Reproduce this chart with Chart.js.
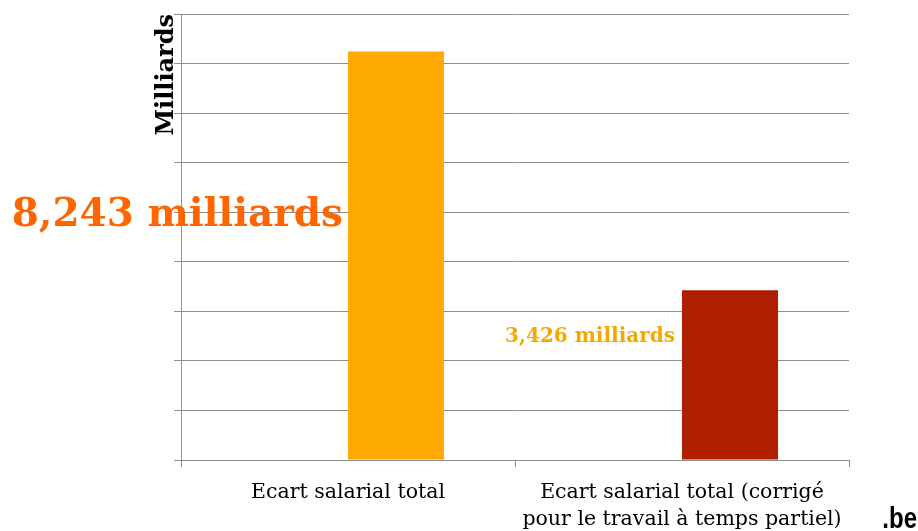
<!DOCTYPE html>
<html>
<head>
<meta charset="utf-8">
<script src="https://cdn.jsdelivr.net/npm/chart.js@4/dist/chart.umd.min.js"></script>
<style>
  html, body { margin: 0; padding: 0; background: #fff; }
  #wrap { width: 918px; height: 531px; }
</style>
</head>
<body>
<div id="wrap"><canvas id="myChart"></canvas></div>
<script>
// Data
const categories = [
  'Ecart salarial total',
  ['Ecart salarial total (corrigé', 'pour le travail à temps partiel)']
];
const values = [8.243, 3.426];                 // milliards
const barColors = ['#FFAA00', '#B01E00'];
const labelColors = ['#FF6600', '#F5A800'];
const yTicks = [0, 1, 2, 3, 4, 5, 6, 7, 8, 9]; // gridlines, no labels shown

const serif = '"DejaVu Serif", Georgia, serif';
const gridGray = '#8f8f8f';

// Value labels drawn next to each bar, plus the ".be" mark
const valueLabels = {
  id: 'valueLabels',
  afterDatasetsDraw(chart) {
    const ctx = chart.ctx;
    const meta = chart.getDatasetMeta(1);
    const labelY = [216, 337];
    const sizes = [39, 20];
    const gaps = [5, 7];
    ctx.save();
    meta.data.forEach((bar, i) => {
      const txt = values[i].toFixed(3).replace('.', ',') + ' milliards';
      ctx.font = 'bold ' + sizes[i] + 'px ' + serif;
      ctx.fillStyle = labelColors[i];
      ctx.textAlign = 'right';
      ctx.textBaseline = 'middle';
      ctx.fillText(txt, bar.x - bar.width / 2 - gaps[i], labelY[i]);
    });
    // logo
    ctx.translate(917, 530);
    ctx.scale(0.8, 1);
    ctx.font = 'bold 30px "Liberation Sans", Arial, sans-serif';
    ctx.fillStyle = '#000';
    ctx.textAlign = 'right';
    ctx.textBaseline = 'alphabetic';
    ctx.fillText('.be', 0, -2);
    ctx.restore();
  }
};

const data = {
  labels: categories,
  datasets: [
    { label: 'vide', data: categories.map(() => null), backgroundColor: 'rgba(0,0,0,0)' },
    { label: 'Ecart salarial', data: values, backgroundColor: barColors, borderWidth: 0 }
  ]
};

const config = {
  type: 'bar',
  data: data,
  options: {
    responsive: true,
    maintainAspectRatio: false,
    animation: false,
    layout: { padding: { left: 152, right: 69, top: 14, bottom: 0 } },
    plugins: {
      legend: { display: false },
      tooltip: { enabled: false }
    },
    datasets: {
      bar: { categoryPercentage: 0.575, barPercentage: 1.0 }
    },
    scales: {
      x: {
        afterFit: (scale) => { scale.height = 71; },
        grid: {
          drawOnChartArea: false,
          drawTicks: true,
          tickLength: 7,
          color: gridGray
        },
        border: { color: gridGray },
        ticks: {
          color: '#000',
          font: { family: serif, size: 20.5, lineHeight: 1.33 },
          padding: 12,
          maxRotation: 0,
          autoSkip: false
        }
      },
      y: {
        min: yTicks[0],
        max: yTicks[yTicks.length - 1],
        afterFit: (scale) => { scale.width = 29; },
        afterBuildTicks: (scale) => { scale.ticks = yTicks.map(v => ({ value: v })); },
        grid: {
          color: gridGray,
          drawTicks: true,
          tickLength: 7
        },
        border: { color: gridGray },
        ticks: { display: false },
        title: {
          display: true,
          text: 'Milliards',
          align: 'end',
          color: '#000',
          padding: { top: 3, bottom: 0 },
          font: { family: serif, size: 24, weight: 'bold', lineHeight: 1 }
        }
      }
    }
  },
  plugins: [valueLabels]
};

var myChart = new Chart(document.getElementById('myChart'), config);
</script>
</body>
</html>
